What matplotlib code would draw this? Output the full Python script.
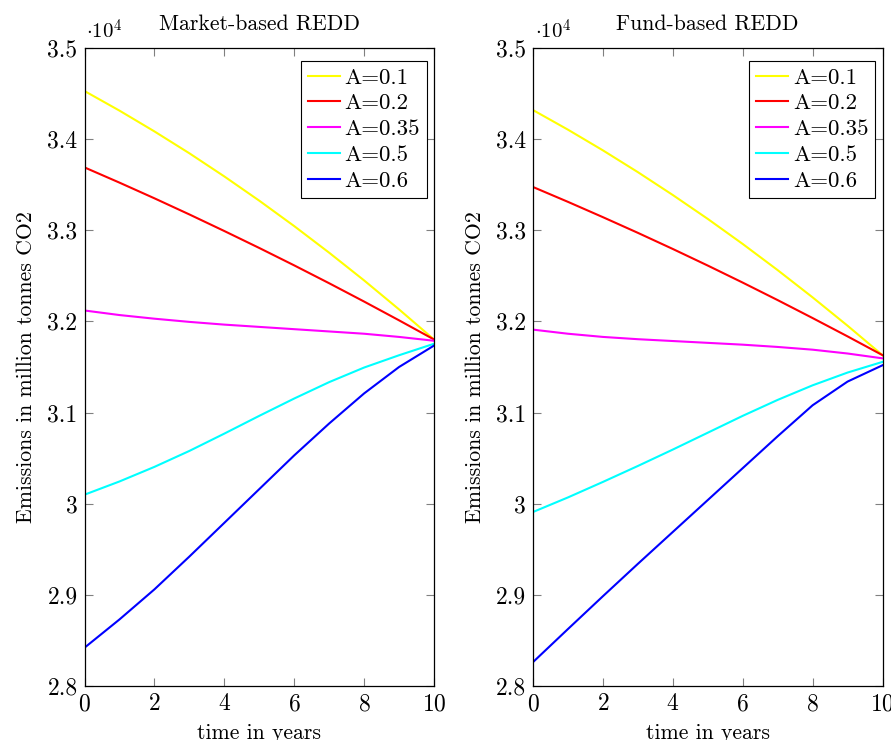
import matplotlib
matplotlib.use("Agg")
import matplotlib.pyplot as plt
from matplotlib.ticker import FuncFormatter

plt.rcParams["font.family"] = ["cmr10", "DejaVu Serif"]
plt.rcParams["mathtext.fontset"] = "cm"
plt.rcParams["axes.formatter.use_mathtext"] = True

YEARS = [0, 1, 2, 3, 4, 5, 6, 7, 8, 9, 10]
LABELS = ["A=0.1", "A=0.2", "A=0.35", "A=0.5", "A=0.6"]
COLORS = ["#FFFF00", "#FF0000", "#FF00FF", "#00FFFF", "#0000FF"]

# Market-based REDD (million tonnes CO2)
market_a01 = [34528, 34313, 34085, 33845, 33591, 33325, 33046, 32754, 32450, 32132, 31802]
market_a02 = [33690, 33523, 33351, 33174, 32992, 32806, 32615, 32419, 32218, 32012, 31802]
market_a035 = [32120, 32070, 32030, 31995, 31965, 31940, 31915, 31890, 31865, 31830, 31788]
market_a05 = [30099, 30244, 30404, 30579, 30769, 30964, 31154, 31334, 31494, 31629, 31755]
market_a06 = [28420, 28730, 29060, 29420, 29790, 30160, 30530, 30880, 31210, 31500, 31735]

# Fund-based REDD (million tonnes CO2)
fund_a01 = [34319, 34104, 33877, 33638, 33387, 33125, 32850, 32563, 32264, 31953, 31630]
fund_a02 = [33475, 33312, 33144, 32972, 32795, 32613, 32426, 32234, 32037, 31836, 31630]
fund_a035 = [31910, 31865, 31830, 31805, 31785, 31765, 31745, 31720, 31690, 31648, 31595]
fund_a05 = [29909, 30069, 30239, 30414, 30594, 30779, 30964, 31139, 31299, 31439, 31556]
fund_a06 = [28262, 28625, 28985, 29340, 29690, 30040, 30390, 30740, 31080, 31340, 31519]

PANELS = [
    ("Market-based REDD", [market_a01, market_a02, market_a035, market_a05, market_a06]),
    ("Fund-based REDD", [fund_a01, fund_a02, fund_a035, fund_a05, fund_a06]),
]

fig = plt.figure(figsize=(8.91, 7.40), dpi=100)
lefts = [84.5 / 891, 533 / 891]
W, H = 891, 740

for left, (ttl, series) in zip(lefts, PANELS):
    ax = fig.add_axes([left, 54 / H, 349.5 / W, 638 / H])
    for ys, lab, col in zip(series, LABELS, COLORS):
        ax.plot(YEARS, ys, color=col, lw=1.5, label=lab)
    ax.set_xlim(0, 10)
    ax.set_ylim(28000, 35000)
    ax.set_xticks([0, 2, 4, 6, 8, 10])
    ax.set_yticks([28000, 29000, 30000, 31000, 32000, 33000, 34000, 35000])
    ax.yaxis.set_major_formatter(FuncFormatter(lambda v, p: f"{v / 1e4:g}"))
    ax.tick_params(direction="in", length=6, width=0.8, color="0.5",
                   top=True, right=True, labelsize=17, pad=5)
    for s in ax.spines.values():
        s.set_linewidth(0.9)
    ax.set_title(ttl, fontsize=15.7, pad=13)
    ax.set_xlabel("time in years", fontsize=15.7, labelpad=6)
    ax.set_ylabel("Emissions in million tonnes CO2", fontsize=15.7, labelpad=8)
    ax.text(0.005, 1.008, r"$\cdot 10^4$", transform=ax.transAxes,
            ha="left", va="bottom", fontsize=15)
    leg = ax.legend(loc="upper right", bbox_to_anchor=(0.979, 0.98),
                    borderaxespad=0, fontsize=16.5, frameon=True, fancybox=False,
                    framealpha=1, edgecolor="black", handlelength=1.4,
                    handletextpad=0.2, labelspacing=0.25, borderpad=0.3)
    leg.get_frame().set_linewidth(0.8)

fig.savefig("out.png", dpi=100, facecolor="white")
